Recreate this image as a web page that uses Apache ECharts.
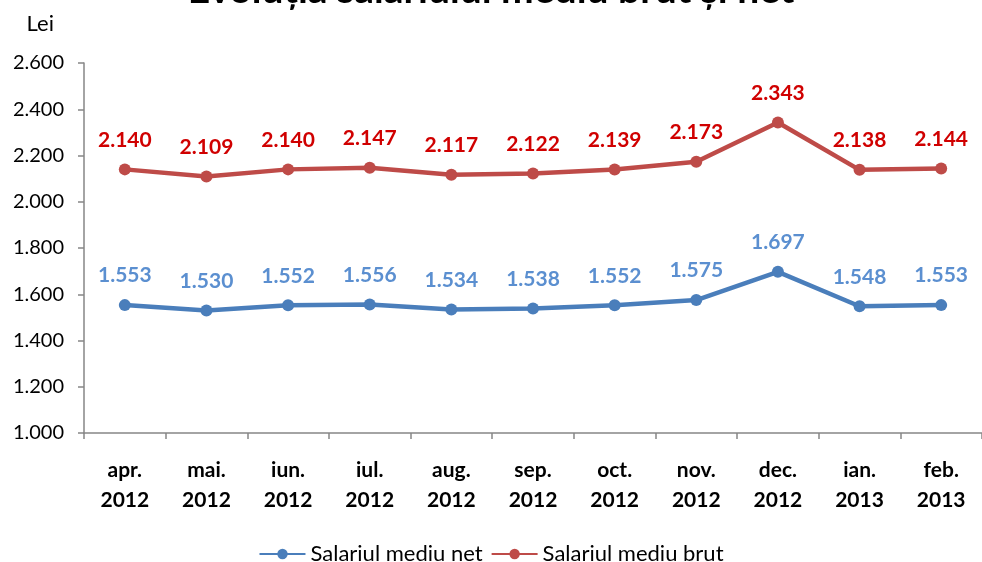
<!DOCTYPE html>
<html>
<head>
<meta charset="utf-8">
<script src="https://cdn.jsdelivr.net/npm/echarts@6/dist/echarts.min.js"></script>
<style>
  html, body { margin: 0; padding: 0; background: #fff; }
  #chart { width: 982px; height: 562px; }
</style>
</head>
<body>
<div id="chart"></div>
<script>
// luni (categorii)
const months = ['apr.\n2012', 'mai.\n2012', 'iun.\n2012', 'iul.\n2012', 'aug.\n2012', 'sep.\n2012',
  'oct.\n2012', 'nov.\n2012', 'dec.\n2012', 'ian.\n2013', 'feb.\n2013']
// salariul mediu brut / net (lei)
const brut = [2140, 2109, 2140, 2147, 2117, 2122, 2139, 2173, 2343, 2138, 2144]
const net = [1553, 1530, 1552, 1556, 1534, 1538, 1552, 1575, 1697, 1548, 1553]

const fontName = 'Lato, "Open Sans", sans-serif'
// format romanesc: punct pentru mii
const fmt = v => {
  const s = String(Math.round(v))
  return s.length > 3 ? s.slice(0, s.length - 3) + '.' + s.slice(-3) : s
}

const chart = echarts.init(document.getElementById('chart'))
chart.setOption({
  animation: false,
  textStyle: { fontFamily: fontName },
  title: {
    text: 'Evoluția salariului mediu brut și net',
    left: 'center',
    top: -34,
    textStyle: { fontSize: 39, fontWeight: 'bold', color: '#000', fontFamily: fontName }
  },
  legend: {
    bottom: -8,
    left: 'center',
    itemWidth: 46,
    itemHeight: 13,
    itemGap: 8,
    textStyle: { fontSize: 22, color: '#000', fontFamily: fontName },
    data: ['Salariul mediu net', 'Salariul mediu brut']
  },
  grid: { left: 84, right: -9, top: 63, bottom: 129 },
  xAxis: {
    type: 'category',
    data: months,
    boundaryGap: true,
    axisLine: { lineStyle: { color: '#868686', width: 1.5 } },
    axisTick: { show: true, length: 6, alignWithLabel: false, lineStyle: { color: '#868686', width: 1.5 } },
    axisLabel: { fontSize: 21, fontWeight: 'bold', color: '#000', margin: 22, lineHeight: 30 }
  },
  yAxis: {
    type: 'value',
    name: 'Lei',
    nameLocation: 'end',
    nameGap: 28,
    nameTextStyle: { fontSize: 22, color: '#000', align: 'right', padding: [0, 30, 0, 0] },
    min: 1000,
    max: 2600,
    interval: 200,
    splitLine: { show: false },
    axisLine: { show: true, lineStyle: { color: '#868686', width: 1.5 } },
    axisTick: { show: true, length: 6, lineStyle: { color: '#868686', width: 1.5 } },
    axisLabel: { fontSize: 20, color: '#000', margin: 20, formatter: fmt }
  },
  series: [
    {
      name: 'Salariul mediu net',
      type: 'line',
      data: net,
      symbol: 'circle',
      symbolSize: 12,
      color: '#4a7ebb',
      lineStyle: { width: 4.5, color: '#4a7ebb' },
      itemStyle: { color: '#4a7ebb' },
      label: {
        show: true,
        position: 'top',
        distance: 13,
        fontSize: 21,
        fontWeight: 'bold',
        color: '#5b8fd0',
        formatter: p => fmt(p.value)
      }
    },
    {
      name: 'Salariul mediu brut',
      type: 'line',
      data: brut,
      symbol: 'circle',
      symbolSize: 12,
      color: '#be4b48',
      lineStyle: { width: 4.5, color: '#be4b48' },
      itemStyle: { color: '#be4b48' },
      label: {
        show: true,
        position: 'top',
        distance: 13,
        fontSize: 21,
        fontWeight: 'bold',
        color: '#d00000',
        formatter: p => fmt(p.value)
      }
    }
  ]
})
</script>
</body>
</html>
